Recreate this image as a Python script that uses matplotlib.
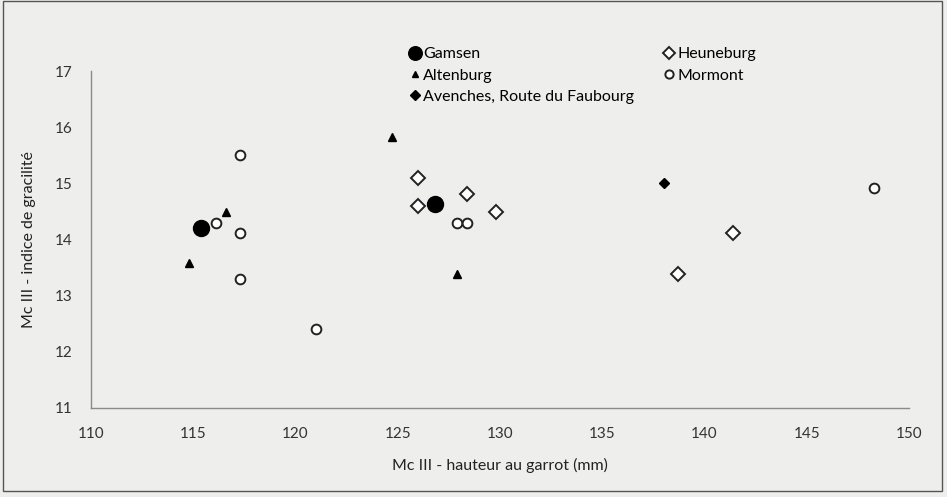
import matplotlib
matplotlib.use("Agg")
import matplotlib.pyplot as plt
from matplotlib.patches import Rectangle

plt.rcParams['font.family'] = ['Lato', 'DejaVu Sans']

gamsen_x = [115.4, 126.8]
gamsen_y = [14.21, 14.63]
altenburg_x = [114.8, 116.6, 124.7, 127.9]
altenburg_y = [13.59, 14.49, 15.82, 13.38]
avenches_x = [138.0]
avenches_y = [15.01]
heuneburg_x = [126.0, 126.0, 128.4, 129.8, 138.7, 141.4]
heuneburg_y = [15.10, 14.60, 14.81, 14.49, 13.38, 14.11]
mormont_x = [116.1, 117.3, 117.3, 117.3, 121.0, 127.9, 128.4, 148.3]
mormont_y = [14.29, 15.51, 14.11, 13.30, 12.40, 14.29, 14.29, 14.91]

xticks = [110, 115, 120, 125, 130, 135, 140, 145, 150]
yticks = [11, 12, 13, 14, 15, 16, 17]

bg = '#eeefed'
fig = plt.figure(figsize=(9.47, 4.97), dpi=100, facecolor=bg)
fig.patches.append(Rectangle((0.003, 0.012), 0.992, 0.985, transform=fig.transFigure,
                             fill=False, edgecolor='#555555', linewidth=1.0))
ax = fig.add_axes([0.0961, 0.1791, 0.8638, 0.678])
ax.set_facecolor(bg)

ax.plot(gamsen_x, gamsen_y, 'o', color='black', ms=11.5, ls='none', label='Gamsen')
ax.plot(altenburg_x, altenburg_y, '^', color='black', ms=5.5, ls='none', label='Altenburg')
ax.plot(avenches_x, avenches_y, 'D', color='black', ms=5.5, ls='none',
        label='Avenches, Route du Faubourg')
ax.plot(heuneburg_x, heuneburg_y, 'D', mfc='white', mec='#222222', mew=1.4, ms=7,
        ls='none', label='Heuneburg')
ax.plot(mormont_x, mormont_y, 'o', mfc='white', mec='#222222', mew=1.4, ms=7,
        ls='none', label='Mormont')

ax.set_xlim(110, 150)
ax.set_ylim(11, 17)
ax.set_xticks(xticks)
ax.set_yticks(yticks)
ax.tick_params(axis='x', length=0, labelsize=11, colors='#333333', pad=14)
ax.tick_params(axis='y', length=0, labelsize=11, colors='#333333', pad=13)
for s in ['top', 'right']:
    ax.spines[s].set_visible(False)
for s in ['left', 'bottom']:
    ax.spines[s].set_color('#8a8a8a')
    ax.spines[s].set_linewidth(1.0)

ax.set_xlabel('Mc III - hauteur au garrot (mm)', fontsize=11.5, color='#222222', labelpad=12)
ax.set_ylabel('Mc III - indice de gracilité', fontsize=11.5, color='#222222', labelpad=14)

leg = ax.legend(ncol=2, loc='upper left', bbox_to_anchor=(0.377, 1.09), frameon=False,
                fontsize=11.5, handletextpad=0.0, handlelength=1.1, columnspacing=1.6,
                labelspacing=0.45, borderaxespad=0, markerscale=0.85)

fig.savefig('out.png', dpi=100, facecolor=bg)
